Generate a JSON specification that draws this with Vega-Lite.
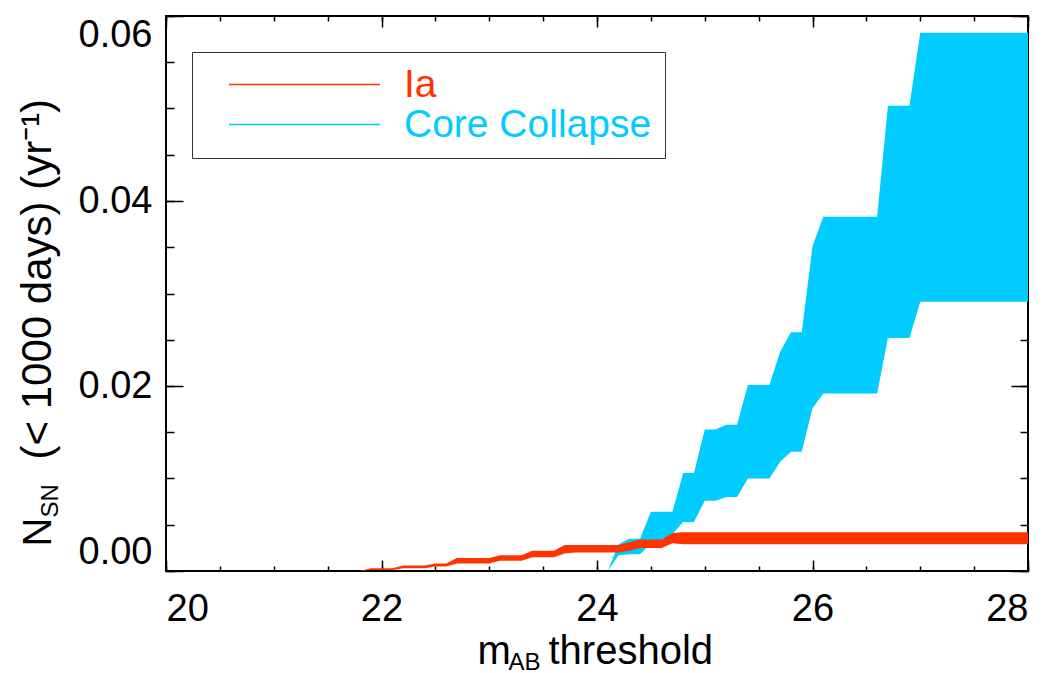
{
  "$schema": "https://vega.github.io/schema/vega-lite/v6.json",
  "autosize": "none",
  "width": 862,
  "height": 555,
  "padding": {"left": 166, "top": 16, "right": 25, "bottom": 102},
  "background": "white",
  "data": {"values": [
    {"m": 24.1, "lo": 0.0, "hi": 0.0, "type": "Core Collapse"},
    {"m": 24.2, "lo": 0.0017, "hi": 0.0029, "type": "Core Collapse"},
    {"m": 24.3, "lo": 0.0018, "hi": 0.0035, "type": "Core Collapse"},
    {"m": 24.4, "lo": 0.0018, "hi": 0.0035, "type": "Core Collapse"},
    {"m": 24.5, "lo": 0.0030, "hi": 0.0064, "type": "Core Collapse"},
    {"m": 24.6, "lo": 0.0034, "hi": 0.0064, "type": "Core Collapse"},
    {"m": 24.7, "lo": 0.0040, "hi": 0.0064, "type": "Core Collapse"},
    {"m": 24.8, "lo": 0.0053, "hi": 0.0106, "type": "Core Collapse"},
    {"m": 24.9, "lo": 0.0053, "hi": 0.0106, "type": "Core Collapse"},
    {"m": 25.0, "lo": 0.0076, "hi": 0.0153, "type": "Core Collapse"},
    {"m": 25.1, "lo": 0.0076, "hi": 0.0153, "type": "Core Collapse"},
    {"m": 25.2, "lo": 0.0080, "hi": 0.0158, "type": "Core Collapse"},
    {"m": 25.3, "lo": 0.0080, "hi": 0.0158, "type": "Core Collapse"},
    {"m": 25.4, "lo": 0.0100, "hi": 0.0201, "type": "Core Collapse"},
    {"m": 25.5, "lo": 0.0100, "hi": 0.0201, "type": "Core Collapse"},
    {"m": 25.6, "lo": 0.0100, "hi": 0.0201, "type": "Core Collapse"},
    {"m": 25.7, "lo": 0.0118, "hi": 0.0237, "type": "Core Collapse"},
    {"m": 25.8, "lo": 0.0129, "hi": 0.0258, "type": "Core Collapse"},
    {"m": 25.9, "lo": 0.0129, "hi": 0.0258, "type": "Core Collapse"},
    {"m": 26.0, "lo": 0.0176, "hi": 0.0351, "type": "Core Collapse"},
    {"m": 26.1, "lo": 0.0192, "hi": 0.0383, "type": "Core Collapse"},
    {"m": 26.6, "lo": 0.0192, "hi": 0.0383, "type": "Core Collapse"},
    {"m": 26.7, "lo": 0.0252, "hi": 0.0503, "type": "Core Collapse"},
    {"m": 26.9, "lo": 0.0252, "hi": 0.0503, "type": "Core Collapse"},
    {"m": 27.0, "lo": 0.0291, "hi": 0.0582, "type": "Core Collapse"},
    {"m": 28.0, "lo": 0.0291, "hi": 0.0582, "type": "Core Collapse"},
    {"m": 21.8, "lo": 0.0, "hi": 0.0, "type": "Ia"},
    {"m": 21.9, "lo": 0.0001, "hi": 0.0003, "type": "Ia"},
    {"m": 22.1, "lo": 0.0001, "hi": 0.0003, "type": "Ia"},
    {"m": 22.2, "lo": 0.0003, "hi": 0.0006, "type": "Ia"},
    {"m": 22.4, "lo": 0.0003, "hi": 0.0006, "type": "Ia"},
    {"m": 22.5, "lo": 0.0005, "hi": 0.0008, "type": "Ia"},
    {"m": 22.6, "lo": 0.0005, "hi": 0.0008, "type": "Ia"},
    {"m": 22.7, "lo": 0.0008, "hi": 0.0014, "type": "Ia"},
    {"m": 23.0, "lo": 0.0008, "hi": 0.0014, "type": "Ia"},
    {"m": 23.1, "lo": 0.0011, "hi": 0.0017, "type": "Ia"},
    {"m": 23.3, "lo": 0.0011, "hi": 0.0017, "type": "Ia"},
    {"m": 23.4, "lo": 0.0015, "hi": 0.0022, "type": "Ia"},
    {"m": 23.6, "lo": 0.0015, "hi": 0.0022, "type": "Ia"},
    {"m": 23.7, "lo": 0.0019, "hi": 0.0028, "type": "Ia"},
    {"m": 23.8, "lo": 0.0020, "hi": 0.0028, "type": "Ia"},
    {"m": 24.2, "lo": 0.0020, "hi": 0.0028, "type": "Ia"},
    {"m": 24.3, "lo": 0.0022, "hi": 0.0031, "type": "Ia"},
    {"m": 24.4, "lo": 0.0025, "hi": 0.0034, "type": "Ia"},
    {"m": 24.6, "lo": 0.0025, "hi": 0.0034, "type": "Ia"},
    {"m": 24.7, "lo": 0.0030, "hi": 0.0041, "type": "Ia"},
    {"m": 24.8, "lo": 0.0029, "hi": 0.0042, "type": "Ia"},
    {"m": 28.0, "lo": 0.0029, "hi": 0.0042, "type": "Ia"}
  ]},
  "resolve": {"axis": {"x": "independent", "y": "independent"}},
  "layer": [
    {
      "transform": [{"filter": "datum.type === 'Core Collapse'"}],
      "mark": {"type": "area", "interpolate": "linear", "opacity": 1},
      "encoding": {
        "x": {"field": "m", "type": "quantitative",
          "scale": {"domain": [20, 28], "nice": false, "zero": false},
          "axis": {"orient": "bottom", "values": [20, 22, 24, 26, 28], "format": "d", "tickSize": -11, "labelPadding": 30,
            "title": "m", "titleX": 311, "titleY": 92, "titleAlign": "left", "titleBaseline": "alphabetic", "titleFontSize": 40}},
        "y": {"field": "lo", "type": "quantitative",
          "scale": {"domain": [0, 0.06], "nice": false, "zero": false},
          "axis": {"orient": "left", "values": [0, 0.02, 0.04, 0.06], "format": ".2f", "tickSize": -17, "labelPadding": 31, "labelFlush": true,
            "title": "N", "titleX": -116, "titleY": 530, "titleAngle": -90, "titleAlign": "left", "titleBaseline": "alphabetic", "titleFontSize": 40}},
        "y2": {"field": "hi"},
        "color": {"field": "type", "type": "nominal",
          "scale": {"domain": ["Ia", "Core Collapse"], "range": ["#ff3300", "#00ccff"]},
          "legend": {"orient": "none", "legendX": 26, "legendY": 36, "title": null,
            "symbolType": "M-10,0H10", "symbolSize": 228, "symbolStrokeWidth": 1.5, "symbolOffset": 80,
            "symbolFillColor": "transparent",
            "symbolStrokeColor": {"expr": "datum.value === 'Ia' ? '#ff3300' : '#00ccff'"},
            "labelColor": {"expr": "datum.value === 'Ia' ? '#ff3300' : '#00ccff'"},
            "labelOffset": 80, "labelFont": "Liberation Sans", "labelFontSize": 39, "labelLimit": 0,
            "padding": 13, "rowPadding": 0, "strokeColor": "#333333"}}
      }
    },
    {
      "transform": [{"filter": "datum.type === 'Ia'"}],
      "mark": {"type": "area", "interpolate": "linear", "opacity": 1},
      "encoding": {
        "x": {"field": "m", "type": "quantitative",
          "axis": {"orient": "bottom", "values": [20, 20.5, 21, 21.5, 22, 22.5, 23, 23.5, 24, 24.5, 25, 25.5, 26, 26.5, 27, 27.5, 28], "labels": false, "tickSize": -5,
            "title": "AB", "titleX": 342, "titleY": 98, "titleAlign": "left", "titleBaseline": "alphabetic", "titleFontSize": 24}},
        "y": {"field": "lo", "type": "quantitative",
          "axis": {"orient": "left", "values": [0, 0.005, 0.01, 0.015, 0.02, 0.025, 0.03, 0.035, 0.04, 0.045, 0.05, 0.055, 0.06], "labels": false, "tickSize": -8,
            "title": "SN", "titleX": -109, "titleY": 501, "titleAngle": -90, "titleAlign": "left", "titleBaseline": "alphabetic", "titleFontSize": 24}},
        "y2": {"field": "hi"},
        "color": {"field": "type", "type": "nominal"}
      }
    },
    {
      "mark": {"type": "point", "opacity": 0},
      "encoding": {
        "x": {"field": "m", "type": "quantitative",
          "axis": {"orient": "top", "values": [20, 22, 24, 26, 28], "labels": false, "tickSize": -11, "title": null}},
        "y": {"field": "lo", "type": "quantitative",
          "axis": {"orient": "right", "values": [0, 0.02, 0.04, 0.06], "labels": false, "tickSize": -17, "title": null}}
      }
    },
    {
      "mark": {"type": "point", "opacity": 0},
      "encoding": {
        "x": {"field": "m", "type": "quantitative",
          "axis": {"orient": "top", "values": [20, 20.5, 21, 21.5, 22, 22.5, 23, 23.5, 24, 24.5, 25, 25.5, 26, 26.5, 27, 27.5, 28], "labels": false, "tickSize": -5, "title": null}},
        "y": {"field": "lo", "type": "quantitative",
          "axis": {"orient": "right", "values": [0, 0.005, 0.01, 0.015, 0.02, 0.025, 0.03, 0.035, 0.04, 0.045, 0.05, 0.055, 0.06], "labels": false, "tickSize": -8, "title": null}}
      }
    },
    {
      "mark": {"type": "point", "opacity": 0},
      "encoding": {
        "x": {"field": "m", "type": "quantitative",
          "axis": {"orient": "bottom", "ticks": false, "labels": false,
            "title": "threshold", "titleX": 382, "titleY": 92, "titleAlign": "left", "titleBaseline": "alphabetic", "titleFontSize": 40}},
        "y": {"field": "lo", "type": "quantitative",
          "axis": {"orient": "left", "ticks": false, "labels": false,
            "title": "(< 1000 days) (yr⁻¹)", "titleX": -116, "titleY": 443, "titleAngle": -90, "titleAlign": "left", "titleBaseline": "alphabetic", "titleFontSize": 42}}
      }
    }
  ],
  "config": {
    "view": {"stroke": "#000000", "strokeWidth": 2},
    "font": "Liberation Sans",
    "axis": {
      "domain": false, "grid": false, "tickColor": "#000000", "tickWidth": 1.5,
      "labelFont": "Liberation Sans", "labelFontSize": 38, "labelColor": "#000000",
      "titleFont": "Liberation Sans", "titleFontWeight": "normal", "titleColor": "#000000"
    },
    "legend": {"labelFont": "Liberation Sans"}
  }
}
